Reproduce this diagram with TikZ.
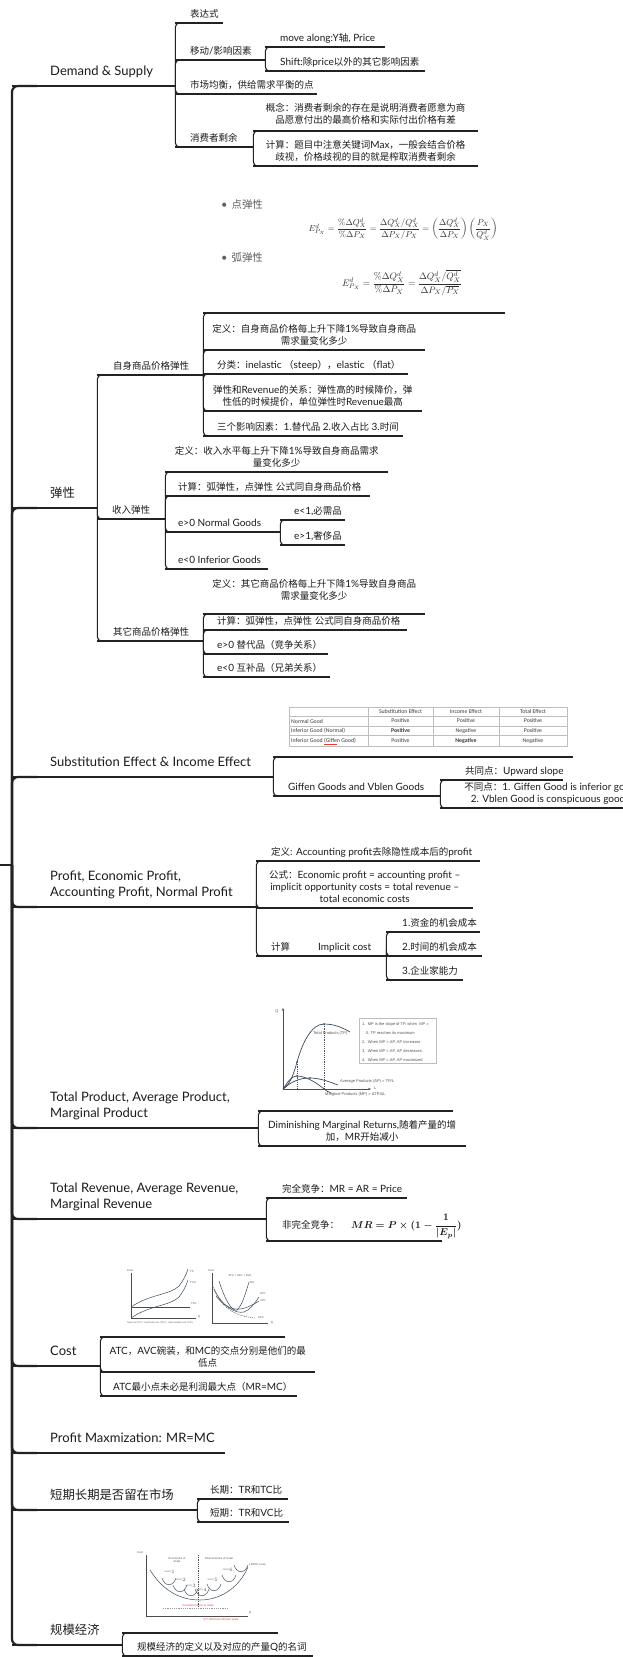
\documentclass[tikz,border=0pt]{standalone}
\usepackage[no-math]{fontspec}
\usepackage{amsmath}
\usepackage{graphicx}
\setmainfont{Lato}
\newfontfamily\latfont{Lato}
\newfontfamily\cjkfont[Scale=0.95]{Noto Sans CJK SC}
\newfontfamily\calfont{Carlito}
\newfontfamily\arifont{Liberation Sans}
\usetikzlibrary{calc,arrows.meta}

\definecolor{ink}{HTML}{222222}
\definecolor{txt}{HTML}{1C1C1C}
\definecolor{fm}{HTML}{2E2E2E}
\definecolor{bul}{HTML}{5E5E5E}
\definecolor{gcol}{HTML}{3C4A5C}
\definecolor{gaxc}{HTML}{4D4D4D}
\definecolor{gtx}{HTML}{555555}
\definecolor{tgrid}{HTML}{BDBDBD}
\definecolor{ttx}{HTML}{3A3A3A}
\definecolor{redl}{HTML}{E53935}

\newcommand\leaffs{\fontsize{10}{12}\selectfont}
\newcommand\mainfs{\fontsize{13}{16}\selectfont}
% left-aligned / centred topic text in a box as wide as its underline
\newcommand\Ltx[3][15]{\makebox[#2pt][l]{\hspace*{#1pt}\begin{tabular}[b]{@{}l@{}}#3\end{tabular}}}
\newcommand\Ctx[2]{\makebox[#1pt][c]{\begin{tabular}[b]{@{}c@{}}#2\end{tabular}}}

% switch to the CJK face for Han characters and full-width punctuation
\newXeTeXintercharclass\CJKcls
\newcount\cjkcnt
\cjkcnt="2E80
\loop
  \XeTeXcharclass\cjkcnt=\CJKcls
  \advance\cjkcnt by 1
\ifnum\cjkcnt<"A000 \repeat
\cjkcnt="FF00
\loop
  \XeTeXcharclass\cjkcnt=\CJKcls
  \advance\cjkcnt by 1
\ifnum\cjkcnt<"FFF0 \repeat
\XeTeXinterchartoks 0 \CJKcls = {\cjkfont}
\XeTeXinterchartoks 4095 \CJKcls = {\cjkfont}
\XeTeXinterchartoks \CJKcls 0 = {\latfont}
\XeTeXinterchartoks \CJKcls 4095 = {\latfont}

\tikzset{
  ln/.style={draw=ink, line width=1.1pt},
  br/.style={draw=ink, line width=1.1pt, rounded corners=4pt},
  sp/.style={draw=ink, line width=2.2pt, rounded corners=6pt},
  tp/.style={anchor=south west, inner xsep=0pt, inner ysep=2pt, font=\leaffs, text=txt,
    append after command={(\tikzlastnode.south west) edge[ln] (\tikzlastnode.south east)}},
  mt/.style={tp, inner ysep=5.5pt, font=\mainfs},
  picbox/.style={tp, minimum height=#1},
  gtxt/.style={font=\arifont\fontsize{4}{4.6}\selectfont, text=gtx, inner sep=0pt},
  ctxt/.style={font=\arifont\fontsize{2.8}{3.2}\selectfont, text=gtx, inner sep=0pt},
  gcv/.style={draw=gcol, line width=0.7pt},
  gax/.style={draw=gaxc, line width=0.55pt},
  gdash/.style={draw=gaxc, line width=0.4pt, dash pattern=on 1.2pt off 1pt},
  tcell/.style={font=\calfont\fontsize{5.8}{6.2}\selectfont, text=ttx, inner sep=0pt},
}

\begin{document}
\XeTeXinterchartokenstate=1
\begin{tikzpicture}[x=1pt,y=-1pt]
\useasboundingbox (0,0) rectangle (622,1657);
\fill[white] (0,0) rectangle (622,1657);

% ---------- main topics ----------
\coordinate (root) at (0,865);
\coordinate (hub) at (12,865);
\node[mt] (m1) at (12,86) {\Ltx[38]{163}{Demand \& Supply}};
\node[mt] (m2) at (12,508) {\Ltx[38]{85}{弹性}};
\node[mt] (m3) at (12,777) {\Ltx[38]{261}{Substitution Effect \& Income Effect}};
\node[mt] (m4) at (12,907) {\Ltx[38]{244}{Profit, Economic Profit,\\Accounting Profit, Normal Profit}};
\node[mt] (m5) at (12,1128) {\Ltx[38]{246}{Total Product, Average Product,\\Marginal Product}};
\node[mt] (m6) at (12,1219) {\Ltx[38]{254}{Total Revenue, Average Revenue,\\Marginal Revenue}};
\node[mt] (m7) at (12,1366) {\Ltx[38]{88}{Cost}};
\node[mt] (m8) at (12,1453) {\Ltx[38]{213}{Profit Maxmization: MR=MC}};
\node[mt] (m9) at (12,1510) {\Ltx[38]{185}{短期长期是否留在市场}};
\node[mt] (m10) at (12,1645) {\Ltx[38]{110}{规模经济}};

\draw[sp] (root) -- (hub);
\foreach \m in {m1,m2,m3,m4,m5,m6,m7,m8,m9,m10}
  \draw[sp] (hub) |- ($(\m.south west)+(25,0)$);

% ---------- Demand & Supply ----------
\node[tp] (d1) at (175,23) {\Ltx{48}{表达式}};
\node[tp] (d2) at (175,60) {\Ltx{90}{移动/影响因素}};
\node[tp] (d2a) at (265,47) {\Ltx{120}{move along:Y轴, Price}};
\node[tp] (d2b) at (265,71) {\Ltx{160}{Shift:除price以外的其它影响因素}};
\node[tp] (d3) at (175,94) {\Ltx{142}{市场均衡，供给需求平衡的点}};
\node[tp] (d4) at (175,147) {\Ltx{78}{消费者剩余}};
\node[tp, inner ysep=4pt] (d4a) at (253,131) {\Ctx{225}{概念：消费者剩余的存在是说明消费者愿意为商\\品愿意付出的最高价格和实际付出价格有差}};
\node[tp] (d4b) at (253,166) {\Ctx{225}{计算：题目中注意关键词Max，一般会结合价格\\歧视，价格歧视的目的就是榨取消费者剩余}};

% ---------- 弹性 ----------
\node[tp] (e1) at (97,375) {\Ltx[16]{106}{自身商品价格弹性}};
\node[picbox=118pt] (e1a) at (203,313) {\makebox[302pt]{}};
\node[tp] (e1b) at (203,350) {\Ctx{222}{定义：自身商品价格每上升下降1\%导致自身商品\\需求量变化多少}};
\node[tp] (e1c) at (203,374) {\Ltx[14]{205}{分类：inelastic （steep），elastic （flat）}};
\node[tp] (e1d) at (203,411) {\Ctx{219}{弹性和Revenue的关系：弹性高的时候降价，弹\\性低的时候提价，单位弹性时Revenue最高}};
\node[tp] (e1e) at (203,436) {\Ltx[14]{200}{三个影响因素：1.替代品 2.收入占比 3.时间}};
\node[tp] (e2) at (97,519) {\Ltx[15]{68}{收入弹性}};
\node[tp] (e2a) at (165,472) {\Ctx{223}{定义：收入水平每上升下降1\%导致自身商品需求\\量变化多少}};
\node[tp] (e2b) at (165,496) {\Ltx[13]{205}{计算：弧弹性，点弹性 公式同自身商品价格}};
\node[tp] (e2c) at (165,532) {\Ltx[13]{115}{e>0 Normal Goods}};
\node[tp] (e2ca) at (280,520) {\Ltx[14]{65}{e<1,必需品}};
\node[tp] (e2cb) at (280,545) {\Ltx[14]{65}{e>1,奢侈品}};
\node[tp] (e2d) at (165,569) {\Ltx[13]{103}{e<0 Inferior Goods}};
\node[tp] (e3) at (97,641) {\Ltx[16]{106}{其它商品价格弹性}};
\node[tp, inner ysep=11pt] (e3a) at (203,614) {\Ctx{222}{定义：其它商品价格每上升下降1\%导致自身商品\\需求量变化多少}};
\node[tp] (e3b) at (203,630) {\Ltx[14]{204}{计算：弧弹性，点弹性 公式同自身商品价格}};
\node[tp] (e3c) at (203,654) {\Ltx[14]{125}{e>0 替代品（竞争关系）}};
\node[tp] (e3d) at (203,677) {\Ltx[14]{127}{e<0 互补品（兄弟关系）}};

% elasticity formulas
\node[anchor=west, font=\fontsize{11}{13}\selectfont, text=bul, inner sep=0pt] (bp1) at (221,205) {•\hspace{4pt}点弹性};
\node[anchor=west, font=\fontsize{11}{13}\selectfont, text=bul, inner sep=0pt] (bp2) at (221,258) {•\hspace{4pt}弧弹性};
\node[text=fm, inner sep=0pt] (f1) at (403,229) {\resizebox{189pt}{!}{$E^{d}_{P_X}=\dfrac{\%\Delta Q^{d}_{X}}{\%\Delta P_{X}}=\dfrac{\Delta Q^{d}_{X}/Q^{d}_{X}}{\Delta P_{X}/P_{X}}=\left(\dfrac{\Delta Q^{d}_{X}}{\Delta P_{X}}\right)\left(\dfrac{P_{X}}{Q^{d}_{X}}\right)$}};
\node[text=fm, inner sep=0pt] (f2) at (402,283) {\resizebox{120pt}{!}{$E^{d}_{P_X}=\dfrac{\%\Delta Q^{d}_{X}}{\%\Delta P_{X}}=\dfrac{\Delta Q^{d}_{X}/\overline{Q^{d}_{X}}}{\Delta P_{X}/\overline{P_{X}}}$}};

% ---------- Substitution & Income effect ----------
\node[picbox=60pt] (s1) at (273,757) {\makebox[300pt]{}};
\node[tp] (s2) at (273,796) {\Ltx[15]{167}{Giffen Goods and Vblen Goods}};
\node[tp] (s2a) at (440,780) {\Ltx[25]{123}{共同点：Upward slope}};
\node[tp] (s2b) at (440,808) {\Ctx{220}{不同点：1. Giffen Good is inferior good\\2. Vblen Good is conspicuous goods}};

% effect table
\draw[tgrid, line width=0.5pt] (289,707) rectangle (567,746);
\foreach \yy in {716,726,735} \draw[tgrid, line width=0.5pt] (289,\yy) -- (567,\yy);
\foreach \xx in {368,433,499} \draw[tgrid, line width=0.5pt] (\xx,707) -- (\xx,746);
\node[tcell] (h2) at (400.5,711.5) {Substitution Effect};
\node[tcell] (h3) at (466,711.5) {Income Effect};
\node[tcell] (h4) at (533,711.5) {Total Effect};
\node[tcell, anchor=west] (r1c1) at (291,721) {Normal Good};
\node[tcell] (r1c2) at (400.5,721) {Positive};
\node[tcell] (r1c3) at (466,721) {Positive};
\node[tcell] (r1c4) at (533,721) {Positive};
\node[tcell, anchor=west] (r2c1) at (291,730.5) {Inferior Good (Normal)};
\node[tcell] (r2c2) at (400.5,730.5) {\bfseries Positive};
\node[tcell] (r2c3) at (466,730.5) {Negative};
\node[tcell] (r2c4) at (533,730.5) {Positive};
\node[tcell, anchor=west] (r3c1) at (291,740.5) {Inferior Good (Giffen Good)};
\node[tcell] (r3c2) at (400.5,740.5) {Positive};
\node[tcell] (r3c3) at (466,740.5) {\bfseries Negative};
\node[tcell] (r3c4) at (533,740.5) {Negative};
\draw[redl, line width=0.4pt] (324,744.3) -- (337,744.3);

% ---------- Profit ----------
\node[tp] (p1) at (256,861) {\Ltx[15]{224}{定义: Accounting profit去除隐性成本后的profit}};
\node[tp] (p2) at (256,908) {\Ctx{217}{公式：Economic profit = accounting profit –\\implicit opportunity costs = total revenue –\\total economic costs}};
\node[tp] (p3) at (256,956) {\Ltx[15]{54}{计算}};
\node[tp] (p3a) at (310,956) {\Ltx[8]{76}{Implicit cost}};
\node[tp] (p3aa) at (386,932) {\Ltx[16]{94}{1.资金的机会成本}};
\node[tp] (p3ab) at (386,956) {\Ltx[16]{96}{2.时间的机会成本}};
\node[tp] (p3ac) at (386,980) {\Ltx[16]{77}{3.企业家能力}};

% ---------- Total product ----------
\node[picbox=106pt] (t1) at (258,1111) {\makebox[195pt]{}};
\node[tp] (t2) at (258,1146) {\Ctx{208}{Diminishing Marginal Returns,随着产量的增\\加，MR开始减小}};

\draw[gax, -{Stealth[length=3pt,width=2.4pt]}] (283,1089) -- (283,1008);
\draw[gax, -{Stealth[length=3pt,width=2.4pt]}] (283,1089) -- (371,1089);
\node[gtxt] (tq) at (277,1011) {Q};
\node[gtxt] (tlab) at (375,1088) {L};
\draw[gdash] (297,1062) -- (297,1089);
\draw[gdash] (324,1024) -- (324,1089);
\draw[gcv] (283,1089) .. controls (290,1085) and (294,1073) .. (297,1062)
  .. controls (302,1044) and (311,1024) .. (324,1024)
  .. controls (335,1024) and (343,1028) .. (350,1032);
\draw[gcv] (283,1089) .. controls (289,1080) and (292,1076) .. (297,1076)
  .. controls (305,1076) and (316,1082) .. (324,1089)
  .. controls (326,1090.5) and (328,1092) .. (331,1093);
\draw[gcv] (283,1089) .. controls (292,1081) and (300,1078) .. (310,1078)
  .. controls (320,1078) and (330,1082) .. (338,1085);
\foreach \pt in {(297,1062),(297,1076),(324,1024),(324,1089),(310,1078)}
  \fill[gcol] \pt circle (0.9pt);
\node[gtxt, anchor=west] (tplab) at (313,1033) {Total Products (TP)};
\node[gtxt, anchor=west] (aplab) at (340,1081) {Average Products (AP) = TP/L};
\node[gtxt, anchor=west] (mplab) at (325,1094.5) {Marginal Products (MP) = ΔTP/ΔL};
\draw[tgrid, line width=0.5pt] (359,1018) rectangle (436,1063);
\node[gtxt, anchor=west] (bx1) at (362,1024) {1.\ \ MP is the slope of TP, when\ \ MP =};
\node[gtxt, anchor=west] (bx2) at (366,1033) {0, TP reaches its maximum};
\node[gtxt, anchor=west] (bx3) at (362,1042) {2.\ \ When MP > AP, AP increases};
\node[gtxt, anchor=west] (bx4) at (362,1051) {3.\ \ When MP < AP, AP decreases};
\node[gtxt, anchor=west] (bx5) at (362,1060) {4.\ \ When MP = AP, AP maximized};

% ---------- Total revenue ----------
\node[tp] (r1) at (266,1198) {\Ltx[16]{141}{完全竞争：MR = AR = Price}};
\node[tp] (r2) at (266,1241) {\Ltx[16]{176}{非完全竞争：\hspace{12pt}{\boldmath$MR = P\times(1-\dfrac{1}{|E_p|})$}}};

% ---------- Cost ----------
\node[picbox=70pt] (c1) at (100,1337) {\makebox[185pt]{}};
\node[tp] (c2) at (100,1372) {\Ctx{215}{ATC，AVC碗装，和MC的交点分别是他们的最\\低点}};
\node[tp] (c3) at (100,1396) {\Ltx[13]{197}{ATC最小点未必是利润最大点（MR=MC）}};

% total cost curves
\draw[gax] (131,1273) -- (131,1318) -- (196,1318);
\node[ctxt] (ccost1) at (130,1271) {Cost};
\node[ctxt] (cq1) at (199,1317) {Q};
\draw[gcv, line width=0.5pt] (131,1307) -- (190,1307);
\draw[gcv, line width=0.5pt] (131,1318) .. controls (150,1305) and (170,1306) .. (179,1297) .. controls (183,1292) and (186,1286) .. (188,1280);
\draw[gcv, line width=0.5pt] (131,1307) .. controls (150,1294) and (170,1295) .. (179,1286) .. controls (183,1281) and (186,1275) .. (188,1269);
\node[ctxt, anchor=west] (ctc) at (190,1272) {TC};
\node[ctxt, anchor=west] (ctvc) at (190,1283) {TVC};
\node[ctxt, anchor=west] (ctfc) at (191,1304) {TFC};
\node[font=\arifont\fontsize{2.3}{2.6}\selectfont, text=gtx, inner sep=0pt] (ccap) at (160,1322.5) {Total cost (TC) = total fixed cost (TFC) + total variable cost (TVC)};

% average and marginal cost curves
\draw[gax] (212,1273) -- (212,1323) -- (268,1323);
\node[ctxt] (ccost2) at (211,1271) {Cost};
\node[ctxt] (cq2) at (272,1323) {Q};
\node[ctxt] (catc) at (240,1276) {ATC = AFC + AVC};
\draw[gcv, line width=0.5pt] (219,1281) .. controls (225,1300) and (232,1312) .. (237,1310) .. controls (242,1306) and (246,1292) .. (249,1282);
\draw[gcv, line width=0.5pt] (214,1289) .. controls (222,1306) and (235,1314) .. (244,1312) .. controls (250,1310) and (255,1303) .. (259,1297);
\draw[gcv, line width=0.5pt] (216,1296) .. controls (224,1306) and (232,1310) .. (240,1309) .. controls (248,1308) and (254,1304) .. (259,1301);
\draw[gdash, line width=0.5pt] (213,1287) .. controls (220,1305) and (232,1316) .. (255,1318);
\node[ctxt, anchor=west] (lmc) at (250,1283) {MC};
\node[ctxt, anchor=west] (latc) at (260,1294) {ATC};
\node[ctxt, anchor=west] (lavc) at (260,1301) {AVC};
\node[ctxt, anchor=west] (lafc) at (258,1318) {AFC};

% ---------- Profit maximisation / short vs long run ----------
\node[tp] (l1) at (197,1499) {\Ltx[13]{91}{长期：TR和TC比}};
\node[tp] (l2) at (197,1522) {\Ltx[13]{92}{短期：TR和VC比}};

% ---------- Economies of scale ----------
\node[picbox=86pt] (g1) at (122,1633) {\makebox[156pt]{}};
\node[tp] (g2) at (122,1656) {\Ltx[15]{191}{规模经济的定义以及对应的产量Q的名词}};

\draw[gax] (146,1555) -- (146,1616) -- (248,1616);
\node[ctxt] (scost) at (140,1553) {Cost};
\node[ctxt] (sq) at (250,1613) {Q};
\draw[gdash] (198,1555) -- (198,1608);
\node[ctxt, align=center] (seco) at (177,1560) {Economies of\\Scale};
\node[ctxt] (sdis) at (219,1558) {Diseconomies of Scale};
\node[ctxt, anchor=west] (slr) at (249,1565) {LRATC curve};
\draw[gcv, line width=0.5pt] (150,1570) .. controls (165,1594) and (184,1600) .. (200,1600) .. controls (218,1600) and (238,1590) .. (248,1567);
\foreach \cx/\cy in {169/1585,180/1592,191/1596,202/1596,214/1591,229/1582,241/1572}
  \draw[gcv, line width=0.45pt] ($(\cx,\cy)+(-7,-7)$) .. controls ($(\cx,\cy)+(-4,2)$) and ($(\cx,\cy)+(4,2)$) .. ($(\cx,\cy)+(7,-7)$);
\foreach \cx/\cy/\k in {170/1572/1,181/1580/2,191/1586/3,202/1590/4,213/1580/5,228/1570/6}
  \node[font=\arifont\fontsize{2}{2.3}\selectfont, text=gtx, inner sep=0pt] at (\cx,\cy) {SRATC$_{\k}$};
\draw[gdash, draw=gtx!60] (163,1608) -- (228,1608);
\node[font=\arifont\fontsize{2.8}{3.2}\selectfont, text=redl, inner sep=0pt] (scrs) at (198,1605) {Constant returns to scale};
\node[font=\arifont\fontsize{2.8}{3.2}\selectfont, text=redl, inner sep=0pt] (smes) at (221,1619.5) {Q*= Minimum efficient scale};

% ---------- connectors between topics ----------
\foreach \a/\b in {m1/d1,m1/d2,m1/d3,m1/d4,d2/d2a,d2/d2b,d4/d4a,d4/d4b,
    m2/e1,m2/e2,m2/e3,e1/e1a,e1/e1b,e1/e1c,e1/e1d,e1/e1e,
    e2/e2a,e2/e2b,e2/e2c,e2/e2d,e2c/e2ca,e2c/e2cb,e3/e3a,e3/e3b,e3/e3c,e3/e3d,
    m3/s1,m3/s2,s2/s2a,s2/s2b,m4/p1,m4/p2,m4/p3,p3a/p3aa,p3a/p3ab,p3a/p3ac,
    m5/t1,m5/t2,m6/r1,m6/r2,m7/c1,m7/c2,m7/c3,m9/l1,m9/l2,m10/g1,m10/g2}
  \draw[br] (\a.south east) |- ($(\b.south west)+(8,0)$);
\draw[ln] (p3.south east) -- (p3a.south west);
\end{tikzpicture}
\end{document}
